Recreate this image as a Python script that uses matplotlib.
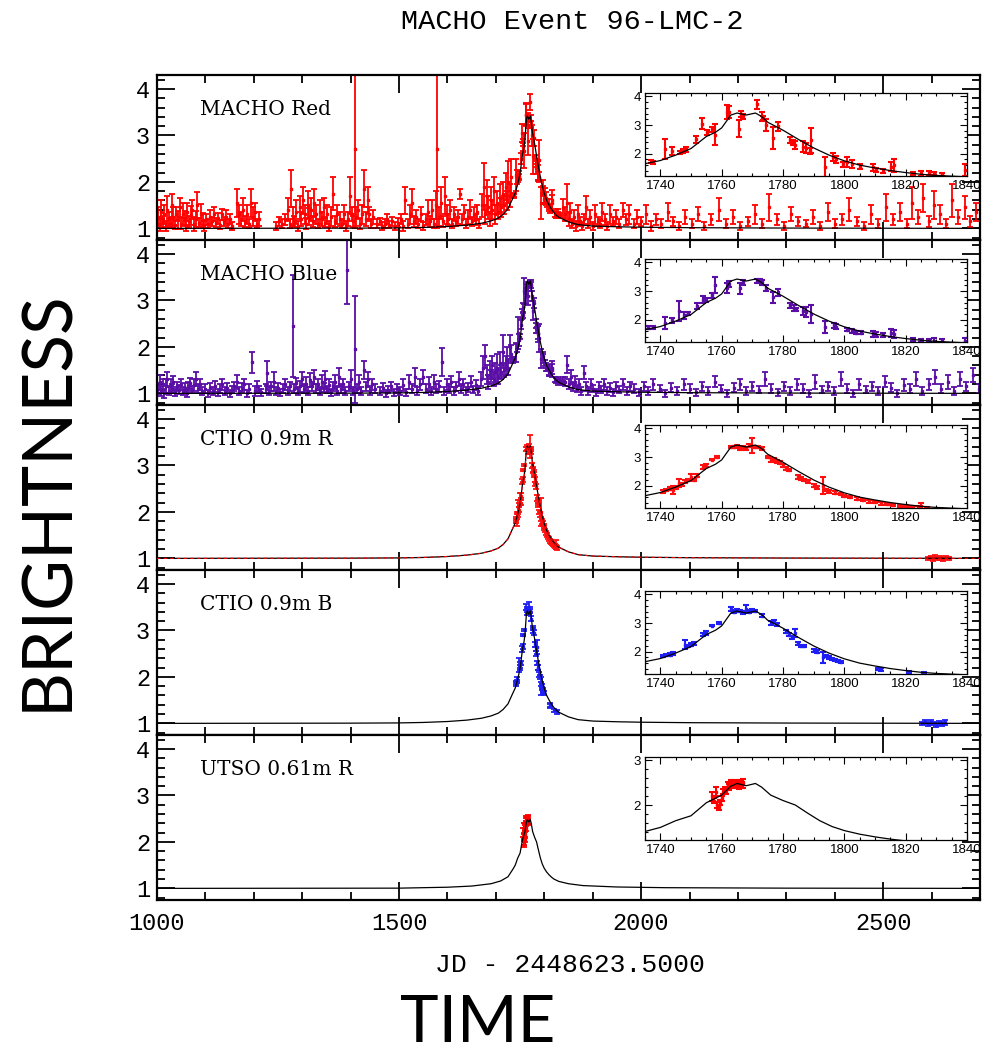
import matplotlib
matplotlib.use("Agg")
import matplotlib.pyplot as plt
from matplotlib.ticker import MultipleLocator

# ---- data: (JD-2448623.5, brightness, error) --------------------------------
RED_BASE = [
    (1003, 1.25, .2), (1006, 1.1, .15), (1009, 1.35, .25), (1012, 1.15, .12), (1015, 1.3, .2),
    (1018, 1.05, .1), (1021, 1.4, .3), (1025, 1.2, .15), (1028, 1.12, .1), (1031, 1.5, .25),
    (1034, 1.25, .2), (1037, 1.08, .1), (1040, 1.3, .15), (1044, 1.18, .2), (1047, 1.45, .2),
    (1050, 1.1, .12), (1053, 1.3, .25), (1057, 1.22, .15), (1060, 1.05, .1), (1063, 1.35, .2),
    (1066, 1.15, .12), (1070, 1.28, .2), (1073, 1.4, .2), (1076, 1.1, .15), (1080, 1.2, .18),
    (1083, 1.5, .28), (1086, 1.12, .1), (1090, 1.3, .22), (1094, 1.18, .15), (1097, 1.05, .1),
    (1102, 1.2, .12), (1106, 1.1, .1), (1110, 1.25, .15), (1114, 1.15, .1), (1118, 1.3, .15),
    (1122, 1.12, .1), (1126, 1.22, .12), (1130, 1.08, .1), (1134, 1.3, .12), (1138, 1.15, .1),
    (1142, 1.25, .15), (1146, 1.1, .1), (1150, 1.2, .1), (1155, 1.05, .08),
    (1166, 1.55, .3), (1170, 1.3, .2), (1174, 1.2, .15), (1178, 1.4, .25), (1182, 1.15, .12),
    (1186, 1.3, .2), (1190, 1.1, .1), (1195, 1.55, .3), (1199, 1.25, .2), (1203, 1.35, .2),
    (1207, 1.1, .1), (1211, 1.2, .15),
    (1245, 1.05, .08), (1252, 1.15, .1), (1258, 1.1, .1), (1265, 1.2, .12),
    (1270, 1.4, .25), (1274, 1.1, .1), (1277, 1.85, .4), (1280, 1.25, .2), (1284, 1.15, .12),
    (1288, 1.35, .25), (1291, 1.05, .1), (1295, 1.45, .25), (1298, 1.2, .15), (1302, 1.6, .3),
    (1305, 1.3, .2), (1308, 1.1, .12), (1312, 1.5, .3), (1315, 1.25, .18), (1318, 1.4, .25),
    (1322, 1.15, .12), (1325, 1.55, .3), (1328, 1.3, .2), (1332, 1.1, .1), (1336, 1.35, .25),
    (1340, 1.2, .15), (1344, 1.45, .2), (1348, 1.12, .1), (1352, 1.3, .2), (1356, 1.05, .1),
    (1360, 1.25, .2), (1364, 1.75, .35), (1368, 1.15, .12), (1372, 1.3, .2),
    (1378, 1.2, .15), (1382, 1.1, .1), (1386, 1.3, .2), (1390, 1.05, .1), (1394, 1.2, .15),
    (1398, 1.7, .4), (1402, 1.3, .15), (1405, 1.15, .12), (1408, 2.7, 1.7), (1412, 1.25, .2),
    (1416, 1.4, .2), (1420, 1.1, .12), (1424, 1.3, .2), (1427, 1.85, .4), (1431, 1.2, .15),
    (1435, 1.6, .3), (1438, 1.3, .15), (1442, 1.1, .1), (1446, 1.25, .15),
    (1455, 1.1, .1), (1460, 1.15, .08), (1465, 1.05, .08), (1470, 1.1, .1), (1475, 1.2, .1),
    (1480, 1.08, .08), (1486, 1.15, .1), (1492, 1.05, .08), (1498, 1.12, .1), (1503, 1.2, .1),
    (1508, 1.05, .1), (1513, 1.6, .3), (1518, 1.1, .1), (1522, 1.3, .2), (1526, 1.55, .3),
    (1530, 1.15, .12), (1535, 1.25, .15), (1540, 1.1, .1), (1545, 1.3, .15), (1550, 1.05, .08),
    (1555, 1.2, .12), (1560, 1.35, .25), (1564, 1.15, .12), (1568, 1.4, .2), (1572, 1.1, .1),
    (1576, 1.5, .3), (1579, 2.7, 1.7), (1583, 1.25, .2), (1587, 1.55, .35), (1590, 1.15, .12),
    (1595, 1.7, .4), (1598, 1.3, .2), (1602, 1.2, .12), (1606, 1.4, .2), (1610, 1.1, .1),
    (1614, 1.3, .15), (1618, 1.15, .1), (1622, 1.25, .15), (1626, 1.74, .11), (1630, 1.2, .12),
    (1634, 1.35, .15), (1638, 1.1, .1), (1642, 1.25, .15), (1646, 1.4, .2), (1650, 1.15, .1),
    (1654, 1.3, .15), (1658, 1.2, .12), (1662, 1.35, .15), (1666, 1.1, .1),
    (1672, 1.5, .25), (1675, 1.9, .5), (1678, 1.3, .2), (1681, 1.7, .35), (1684, 1.45, .25),
    (1687, 1.2, .15), (1690, 1.6, .3), (1693, 1.4, .2), (1696, 1.8, .3), (1699, 1.3, .2),
    (1702, 1.55, .25), (1705, 1.35, .15), (1708, 1.65, .3), (1711, 1.45, .2), (1714, 1.75, .25),
    (1717, 1.5, .2), (1720, 1.9, .3), (1723, 1.6, .2), (1726, 2.0, .45), (1729, 1.7, .25),
    (1732, 2.1, .4),
    (1842, 1.3, .15), (1846, 1.55, .4), (1850, 1.2, .15), (1854, 1.35, .2), (1858, 1.1, .1),
    (1862, 1.25, .15), (1866, 1.05, .1), (1870, 1.3, .2), (1874, 1.15, .1), (1878, 1.05, .08),
    (1882, 1.2, .1), (1886, 1.45, .25), (1890, 1.1, .1), (1895, 1.25, .15), (1900, 1.05, .08),
    (1905, 1.3, .2), (1910, 1.15, .1), (1915, 1.1, .1), (1920, 1.35, .2), (1925, 1.2, .12),
    (1930, 1.05, .08), (1936, 1.3, .2), (1942, 1.15, .1), (1948, 1.25, .15), (1955, 1.1, .1),
    (1962, 1.4, .15), (1968, 1.2, .12), (1975, 1.3, .2),
    (1985, 1.1, .1), (1992, 1.25, .15), (2000, 1.15, .1), (2010, 1.3, .2), (2020, 1.05, .1),
    (2030, 1.2, .12), (2042, 1.1, .1), (2055, 1.35, .2), (2065, 1.15, .1), (2078, 1.05, .08),
    (2090, 1.25, .15), (2105, 1.1, .1), (2118, 1.3, .15), (2130, 1.05, .08), (2145, 1.2, .12),
    (2160, 1.4, .25), (2175, 1.1, .1), (2190, 1.25, .15), (2205, 1.05, .08), (2220, 1.15, .1),
    (2235, 1.3, .2), (2250, 1.1, .1), (2265, 1.45, .3), (2280, 1.2, .12), (2295, 1.05, .08),
    (2310, 1.3, .15), (2325, 1.15, .1), (2340, 1.1, .08), (2355, 1.25, .15), (2370, 1.05, .08),
    (2385, 1.35, .2), (2400, 1.1, .1), (2415, 1.2, .12), (2430, 1.4, .25), (2445, 1.15, .1),
    (2460, 1.05, .08), (2475, 1.3, .2), (2490, 1.1, .1), (2505, 1.45, .3), (2520, 1.2, .12),
    (2535, 1.35, .2), (2550, 1.1, .1), (2560, 1.55, .35), (2572, 1.25, .15), (2583, 1.65, .3),
    (2595, 1.15, .12), (2606, 1.5, .3), (2618, 1.3, .2), (2630, 1.1, .1), (2642, 1.6, .35),
    (2655, 1.25, .15), (2668, 1.45, .25), (2680, 1.15, .12), (2692, 1.35, .2),
]
RED_PEAK = [
    (1736.8, 1.72, .05), (1737.5, 1.7, .05), (1741.6, 2.15, .35), (1743.8, 2.1, .15),
    (1746.5, 2.05, .05), (1747.5, 2.1, .06), (1748.5, 2.15, .08), (1751.7, 2.5, .12),
    (1753.5, 3.05, .2), (1755.2, 2.75, .08), (1756.8, 2.85, .08), (1757.9, 2.67, .38),
    (1761.6, 3.45, .25), (1762.4, 3.45, .22), (1765.6, 2.87, .3), (1766.2, 3.38, .1),
    (1766.9, 3.3, .08), (1771.4, 3.72, .17), (1773.0, 3.3, .15), (1773.5, 3.25, .06),
    (1774.6, 3.0, .22), (1776.6, 2.55, .37), (1778.4, 2.95, .17), (1782.2, 2.48, .1),
    (1783.3, 2.4, .09), (1783.8, 2.3, .14), (1786.5, 2.25, .2), (1787.6, 2.2, .17),
    (1788.7, 2.1, .11), (1789.2, 2.47, .43), (1793.6, 1.55, .35), (1796.3, 1.9, .14),
    (1797.4, 1.8, .11), (1799.5, 1.63, .09), (1801.0, 1.7, .17), (1802.6, 1.65, .14),
    (1805.0, 1.55, .09), (1809.3, 1.52, .11), (1810.4, 1.43, .06), (1812.5, 1.4, .06),
    (1815.2, 1.55, .17), (1816.3, 1.6, .23), (1822.3, 1.3, .06), (1825.0, 1.32, .09),
    (1827.7, 1.32, .09), (1829.3, 1.3, .06), (1832.0, 1.28, .06), (1839.5, 1.43, .2),
]
BLUE_BASE = [
    (1003, 1.1, .12), (1006, 1.25, .15), (1009, 1.05, .1), (1012, 1.2, .12), (1015, 1.0, .1),
    (1018, 1.15, .15), (1021, 1.3, .15), (1025, 1.05, .08), (1028, 1.18, .12), (1031, 1.1, .1),
    (1034, 1.25, .12), (1037, 1.02, .08), (1041, 1.15, .1), (1045, 1.08, .1), (1049, 1.2, .12),
    (1053, 1.05, .08), (1057, 1.12, .1), (1061, 1.0, .08), (1065, 1.15, .1), (1069, 1.22, .12),
    (1073, 1.08, .08), (1077, 1.18, .12), (1081, 1.3, .15), (1085, 1.1, .1), (1089, 1.2, .12),
    (1093, 1.05, .08), (1100, 1.1, .1), (1105, 1.0, .08), (1110, 1.12, .1), (1115, 1.05, .08),
    (1120, 1.15, .12), (1125, 1.02, .08), (1130, 1.1, .1), (1135, 1.2, .12), (1140, 1.05, .08),
    (1145, 1.12, .1), (1150, 1.0, .08), (1155, 1.08, .08), (1160, 1.15, .1), (1165, 1.25, .15),
    (1170, 1.05, .08), (1175, 1.12, .1), (1180, 1.2, .12), (1185, 1.0, .08), (1190, 1.1, .1),
    (1197, 1.67, .23), (1202, 1.05, .1), (1206, 1.15, .12), (1210, 1.08, .08), (1215, 1.02, .08),
    (1225, 1.1, .1), (1228, 1.43, .27), (1232, 1.05, .08), (1236, 1.15, .1), (1242, 1.25, .2),
    (1246, 1.05, .08), (1250, 1.12, .1), (1255, 1.02, .08), (1260, 1.1, .1), (1265, 1.2, .12),
    (1270, 1.05, .08), (1275, 1.15, .1), (1280, 2.45, 1.1), (1284, 1.1, .1), (1288, 1.22, .12),
    (1292, 1.05, .08), (1296, 1.15, .12), (1300, 1.3, .15), (1304, 1.1, .1), (1308, 1.2, .15),
    (1312, 1.05, .08), (1316, 1.28, .15), (1320, 1.15, .1), (1324, 1.35, .15), (1328, 1.1, .1),
    (1332, 1.2, .12), (1336, 1.05, .08), (1340, 1.25, .15), (1344, 1.12, .1), (1348, 1.3, .18),
    (1352, 1.08, .08), (1356, 1.18, .12), (1360, 1.02, .08), (1364, 1.15, .1), (1368, 1.25, .15),
    (1372, 1.05, .08), (1376, 1.35, .2), (1380, 1.1, .1), (1384, 1.2, .12), (1388, 1.05, .08),
    (1392, 3.65, .72), (1396, 1.15, .1), (1400, 1.3, .2), (1404, 1.05, .08), (1409, 1.95, 1.15),
    (1413, 1.1, .1), (1418, 1.25, .15), (1422, 1.05, .08), (1427, 1.5, .2), (1431, 1.15, .1),
    (1435, 1.3, .15), (1440, 1.05, .08), (1445, 1.2, .12), (1450, 1.1, .1),
    (1460, 1.05, .08), (1466, 1.12, .1), (1472, 1.0, .08), (1478, 1.08, .08), (1484, 1.15, .1),
    (1490, 1.02, .08), (1496, 1.1, .1), (1502, 1.05, .08), (1508, 1.18, .12), (1514, 1.02, .08),
    (1520, 1.25, .15), (1526, 1.1, .1), (1532, 1.35, .2), (1538, 1.05, .08), (1544, 1.2, .12),
    (1550, 1.35, .15), (1556, 1.1, .1), (1562, 1.2, .15), (1567, 1.05, .08), (1572, 1.25, .15),
    (1577, 1.1, .1), (1582, 1.15, .12), (1588, 1.67, .3), (1593, 1.05, .08), (1598, 1.2, .12),
    (1603, 1.1, .1), (1608, 1.25, .12), (1613, 1.05, .08), (1618, 1.15, .1), (1623, 1.3, .15),
    (1628, 1.1, .1), (1633, 1.2, .12), (1638, 1.05, .08), (1643, 1.12, .1), (1648, 1.25, .12),
    (1653, 1.08, .08), (1658, 1.18, .1), (1663, 1.05, .08),
    (1670, 1.3, .15), (1674, 1.55, .25), (1678, 1.8, .25), (1681, 1.4, .2), (1684, 1.25, .15),
    (1687, 1.5, .2), (1690, 1.35, .15), (1693, 1.6, .2), (1696, 1.3, .15), (1699, 1.45, .2),
    (1702, 1.55, .3), (1705, 1.35, .15), (1708, 1.65, .25), (1711, 1.45, .15), (1714, 1.9, .35),
    (1717, 1.5, .15), (1720, 1.6, .2), (1723, 1.75, .25), (1726, 1.55, .15), (1729, 2.0, .25),
    (1732, 1.85, .2),
    (1843, 1.25, .1), (1847, 1.62, .18), (1851, 1.2, .1), (1855, 1.35, .15), (1859, 1.15, .1),
    (1863, 1.25, .12), (1867, 1.1, .08), (1871, 1.2, .1), (1875, 1.05, .08), (1881, 1.44, .14),
    (1886, 1.15, .1), (1891, 1.05, .08), (1896, 1.2, .1), (1901, 1.1, .08), (1906, 1.02, .08),
    (1912, 1.15, .1), (1918, 1.08, .08), (1924, 1.2, .12), (1930, 1.05, .08), (1936, 1.12, .1),
    (1942, 1.02, .08), (1948, 1.15, .1), (1955, 1.08, .08), (1962, 1.2, .12), (1970, 1.05, .08),
    (1977, 1.15, .1), (1985, 1.1, .1), (1995, 1.02, .08), (2005, 1.15, .1), (2015, 1.05, .08),
    (2025, 1.2, .12), (2038, 1.1, .08), (2050, 1.0, .08), (2062, 1.12, .1), (2075, 1.05, .08),
    (2088, 1.2, .12), (2100, 1.1, .1), (2113, 1.02, .08), (2126, 1.15, .1), (2139, 1.05, .08),
    (2152, 1.25, .12), (2165, 1.1, .08), (2178, 1.0, .08), (2191, 1.12, .1), (2204, 1.2, .12),
    (2217, 1.05, .08), (2230, 1.15, .1), (2243, 1.08, .08), (2256, 1.3, .15), (2269, 1.1, .1),
    (2282, 1.02, .08), (2295, 1.15, .1), (2308, 1.05, .08), (2321, 1.2, .12), (2334, 1.1, .1),
    (2347, 1.0, .08), (2360, 1.25, .15), (2373, 1.08, .08), (2386, 1.15, .1), (2399, 1.05, .08),
    (2412, 1.3, .15), (2425, 1.1, .1), (2438, 1.0, .08), (2451, 1.2, .12), (2464, 1.08, .08),
    (2477, 1.15, .1), (2490, 1.05, .08), (2503, 1.25, .12), (2516, 1.12, .1), (2529, 1.0, .08),
    (2542, 1.18, .12), (2555, 1.1, .1), (2568, 1.3, .15), (2581, 1.05, .08), (2594, 1.2, .12),
    (2607, 1.35, .15), (2620, 1.1, .1), (2633, 1.25, .15), (2646, 1.05, .08), (2659, 1.3, .15),
    (2672, 1.15, .1), (2685, 1.4, .15), (2697, 1.1, .1),
]
BLUE_PEAK = [
    (1736.0, 1.72, .06), (1737.5, 1.73, .05), (1741.6, 1.88, .2), (1743.8, 1.98, .09),
    (1746.0, 2.3, .34), (1747.6, 2.15, .12), (1749.0, 2.22, .06), (1752.0, 2.48, .09),
    (1754.0, 2.7, .11), (1755.0, 2.68, .06), (1756.8, 2.85, .09), (1757.9, 3.2, .28),
    (1761.6, 3.1, .17), (1762.5, 3.25, .11), (1766.0, 3.1, .19), (1767.0, 3.3, .09),
    (1771.4, 3.35, .08), (1772.5, 3.35, .08), (1773.3, 3.3, .1), (1774.6, 3.1, .11),
    (1776.6, 2.78, .2), (1778.4, 2.95, .11), (1782.2, 2.5, .09), (1783.5, 2.4, .11),
    (1784.4, 2.36, .06), (1786.5, 2.3, .14), (1787.6, 2.28, .17), (1789.2, 2.2, .3),
    (1793.6, 1.75, .2), (1796.5, 1.8, .09), (1797.4, 1.75, .09), (1801.0, 1.65, .06),
    (1802.6, 1.6, .06), (1803.9, 1.55, .06), (1805.5, 1.55, .06), (1809.3, 1.5, .11),
    (1810.4, 1.47, .09), (1812.5, 1.45, .07), (1815.2, 1.55, .14), (1816.3, 1.5, .14),
    (1822.3, 1.3, .06), (1825.0, 1.28, .06), (1827.7, 1.27, .04), (1829.3, 1.27, .09),
    (1832.0, 1.26, .06), (1839.5, 1.27, .09),
]
CTIO_R_PTS = [
    (1741, 1.8, .04), (1742, 1.85, .05), (1743, 1.9, .05), (1744, 1.85, .15), (1745, 1.95, .05),
    (1746, 2.1, .15), (1747, 2.05, .05), (1748, 2.15, .05), (1749, 2.2, .05), (1750, 2.3, .1),
    (1751, 2.2, .05), (1752, 2.35, .05), (1754, 2.65, .06), (1755, 2.7, .06), (1757, 2.9, .02),
    (1758.5, 3.0, .02), (1763, 3.35, .05), (1764, 3.35, .05), (1765, 3.38, .05), (1766, 3.3, .05),
    (1767, 3.35, .05), (1768, 3.3, .05), (1769, 3.4, .06), (1770, 3.4, .25), (1771, 3.35, .05),
    (1772, 3.35, .05), (1773, 3.3, .05), (1775, 3.0, .05), (1776, 2.9, .06), (1777, 2.9, .05),
    (1778, 2.85, .05), (1779, 2.8, .05), (1780, 2.7, .05), (1781, 2.6, .05), (1782, 2.55, .05),
    (1785, 2.3, .06), (1786, 2.25, .05), (1787, 2.2, .05), (1788, 2.15, .05), (1790, 2.0, .05),
    (1791, 1.95, .05), (1793, 2.0, .3), (1794, 1.85, .05), (1795, 1.8, .05), (1797, 1.75, .05),
    (1799, 1.7, .04), (1800, 1.65, .04), (1802, 1.6, .04), (1804, 1.55, .04), (1806, 1.5, .04),
    (1808, 1.45, .04), (1810, 1.42, .04), (1812, 1.38, .04), (1814, 1.35, .04), (1816, 1.32, .04),
    (1818, 1.3, .04), (1820, 1.28, .04), (1822, 1.26, .04), (1824, 1.24, .04), (1825, 1.3, .1),
    (1827, 1.22, .04),
    (2592, 1.0, .03), (2598, 1.02, .04), (2603, 0.98, .03), (2608, 1.03, .04), (2613, 1.0, .03),
    (2618, 1.01, .04), (2623, 0.99, .04), (2629, 1.02, .03), (2636, 1.0, .03),
]
CTIO_B_PTS = [
    (1741, 1.85, .04), (1742, 1.88, .04), (1743, 1.9, .04), (1744, 1.95, .05), (1748, 2.25, .15),
    (1749, 2.2, .05), (1750, 2.25, .06), (1751, 2.3, .05), (1754, 2.6, .06), (1755, 2.65, .06),
    (1757, 2.9, .02), (1759, 3.0, .02), (1763, 3.5, .07), (1764, 3.4, .06), (1765, 3.45, .05),
    (1766, 3.42, .05), (1767, 3.38, .05), (1768, 3.5, .12), (1769, 3.4, .05), (1770, 3.45, .05),
    (1771, 3.42, .05), (1773, 3.25, .05), (1776, 3.0, .06), (1777, 3.05, .05), (1778, 2.95, .05),
    (1781, 2.7, .05), (1782, 2.6, .05), (1783, 2.5, .05), (1784, 2.65, .15), (1785, 2.3, .05),
    (1786, 2.2, .05), (1787, 2.2, .05), (1790, 2.05, .05), (1791, 2.0, .05), (1793, 1.8, .2),
    (1794, 1.85, .05), (1795, 1.8, .05), (1796, 1.75, .04), (1797, 1.72, .04), (1798, 1.68, .04),
    (1799, 1.65, .04), (1811, 1.4, .04), (1812, 1.38, .04), (1821, 1.28, .04), (1826, 1.25, .04),
    (2580, 1.0, .04), (2586, 1.03, .05), (2592, 0.98, .04), (2598, 1.02, .05), (2604, 1.0, .04),
    (2610, 0.97, .04), (2616, 1.01, .05), (2622, 0.99, .04), (2628, 1.02, .05),
]
UTSO_PTS = [
    (1757.0, 2.2, .1), (1757.5, 2.1, .06), (1758.0, 2.3, .1), (1758.5, 2.0, .06), (1759.0, 1.95, .06),
    (1759.5, 2.05, .06), (1760.0, 2.15, .06), (1760.5, 2.3, .06), (1761.0, 2.35, .06),
    (1761.5, 2.3, .06), (1762.0, 2.45, .06), (1762.5, 2.4, .06), (1763.0, 2.5, .06),
    (1763.5, 2.45, .06), (1764.0, 2.45, .06), (1764.5, 2.5, .06), (1765.0, 2.45, .06),
    (1765.5, 2.42, .06), (1766.0, 2.5, .06), (1766.5, 2.45, .06), (1767.0, 2.48, .1),
]

# binary-lens model curves (t, A)
MODEL_T = [1000, 1400, 1500, 1550, 1600, 1640, 1670, 1690, 1705, 1715, 1725, 1735, 1740,
           1745, 1750, 1755, 1758, 1760, 1763, 1765, 1768, 1771, 1773, 1775, 1780, 1785,
           1790, 1795, 1800, 1805, 1810, 1815, 1820, 1825, 1830, 1840, 1850, 1870, 1900,
           1950, 2000, 2100, 2300, 2700]
MODEL_A = [1.0, 1.005, 1.01, 1.02, 1.04, 1.07, 1.11, 1.16, 1.22, 1.3, 1.42, 1.65, 1.76,
           1.95, 2.18, 2.6, 2.75, 2.9, 3.35, 3.42, 3.35, 3.42, 3.3, 3.1, 2.82, 2.5,
           2.2, 1.95, 1.75, 1.6, 1.5, 1.41, 1.34, 1.28, 1.24, 1.19, 1.14, 1.08, 1.05,
           1.035, 1.025, 1.015, 1.007, 1.0]
UTSO_MODEL_T = [1000, 1500, 1600, 1650, 1690, 1710, 1725, 1735, 1740, 1745, 1750, 1755,
                1760, 1763, 1765, 1768, 1771, 1773, 1776, 1780, 1784, 1788, 1792, 1796,
                1800, 1805, 1810, 1815, 1820, 1830, 1850, 1880, 1950, 2050, 2300, 2700]
UTSO_MODEL_A = [1.0, 1.005, 1.025, 1.05, 1.1, 1.16, 1.25, 1.41, 1.5, 1.65, 1.76, 2.05,
                2.22, 2.42, 2.48, 2.43, 2.48, 2.4, 2.22, 2.1, 2.0, 1.82, 1.65, 1.52,
                1.43, 1.35, 1.29, 1.24, 1.2, 1.15, 1.1, 1.06, 1.03, 1.015, 1.005, 1.0]

PANEL_LABELS = ["MACHO Red", "MACHO Blue", "CTIO 0.9m R", "CTIO 0.9m B", "UTSO 0.61m R"]
PANEL_COLORS = ["#ff0000", "#5a0ea6", "#ff1010", "#1f1ff5", "#ff0000"]

MONO = "Liberation Mono"
W, H = 994, 1054
fig = plt.figure(figsize=(W / 100, H / 100), dpi=100)


def px_rect(x0, y0, x1, y1):
    return [x0 / W, 1 - y1 / H, (x1 - x0) / W, (y1 - y0) / H]


def draw_points(ax, pts, color, cap, lw):
    t, y, e = zip(*pts)
    ax.errorbar(t, y, yerr=e, fmt="s", ms=2.0, color=color, ecolor=color,
                elinewidth=lw, capsize=cap, capthick=lw, zorder=2)


series = [RED_BASE + RED_PEAK, BLUE_BASE + BLUE_PEAK, CTIO_R_PTS, CTIO_B_PTS, UTSO_PTS]
inset_pts = [RED_PEAK, BLUE_PEAK, CTIO_R_PTS, CTIO_B_PTS, UTSO_PTS]

for i in range(5):
    top = 75 + 165 * i
    ax = fig.add_axes(px_rect(157, top, 980, top + 165))
    color = PANEL_COLORS[i]
    mt, ma = (UTSO_MODEL_T, UTSO_MODEL_A) if i == 4 else (MODEL_T, MODEL_A)
    draw_points(ax, series[i], color, 2.0, 1.3)
    ax.plot(mt, ma, color="black", lw=0.9, zorder=3)
    if i == 2:
        ax.plot(mt, ma, color="red", lw=0.8, dashes=(3, 3), zorder=4)
    ax.set_xlim(1000, 2700)
    ax.set_ylim(0.75, 4.3)
    ax.xaxis.set_major_locator(MultipleLocator(500))
    ax.xaxis.set_minor_locator(MultipleLocator(100))
    ax.yaxis.set_major_locator(MultipleLocator(1))
    ax.yaxis.set_minor_locator(MultipleLocator(0.2))
    ax.tick_params(which="both", direction="in", top=True, right=True, width=1.3)
    ax.tick_params(which="major", length=13)
    ax.tick_params(which="minor", length=6)
    ax.tick_params(axis="y", labelsize=17, pad=5)
    ax.tick_params(axis="x", labelsize=17, pad=9, labelbottom=(i == 4))
    for lab in ax.get_xticklabels() + ax.get_yticklabels():
        lab.set_family(MONO)
    for s in ax.spines.values():
        s.set_linewidth(1.6)
    ax.text(0.052, 0.79, PANEL_LABELS[i], transform=ax.transAxes, va="center",
            ha="left", family="DejaVu Serif", fontsize=14.5)

    # zoomed inset around the peak
    itop = top + 18 + i
    ins = fig.add_axes(px_rect(645, itop, 967, itop + 83))
    ins.set_facecolor("white")
    draw_points(ins, inset_pts[i], color, 2.3, 1.5)
    ins.plot(mt, ma, color="black", lw=0.9, zorder=3)
    ins.set_xlim(1735, 1840)
    ins.set_ylim((1.22, 3.07) if i == 4 else (1.22, 4.12))
    ins.xaxis.set_major_locator(MultipleLocator(20))
    ins.xaxis.set_minor_locator(MultipleLocator(5))
    ins.yaxis.set_major_locator(MultipleLocator(1))
    ins.yaxis.set_minor_locator(MultipleLocator(0.2))
    ins.tick_params(which="both", direction="in", top=True, right=True, width=0.8,
                    labelsize=9.5, pad=3)
    ins.tick_params(which="major", length=5)
    ins.tick_params(which="minor", length=2.5)
    for lab in ins.get_xticklabels() + ins.get_yticklabels():
        lab.set_family("Liberation Sans")
    for s in ins.spines.values():
        s.set_linewidth(0.9)

fig.text(572 / W, 1 - 22 / H, "MACHO Event 96-LMC-2", family=MONO, fontsize=20.5,
         ha="center", va="center")
fig.text(570 / W, 1 - 965 / H, "JD - 2448623.5000", family=MONO, fontsize=19,
         ha="center", va="center")
fig.text(48 / W, 1 - 500 / H, "BRIGHTNESS", family="Lato", fontsize=50,
         rotation=90, ha="center", va="center")
fig.text(478 / W, 1 - 1023 / H, "TIME", family="Lato", fontsize=47,
         ha="center", va="center")

fig.savefig("out.png", dpi=100)
